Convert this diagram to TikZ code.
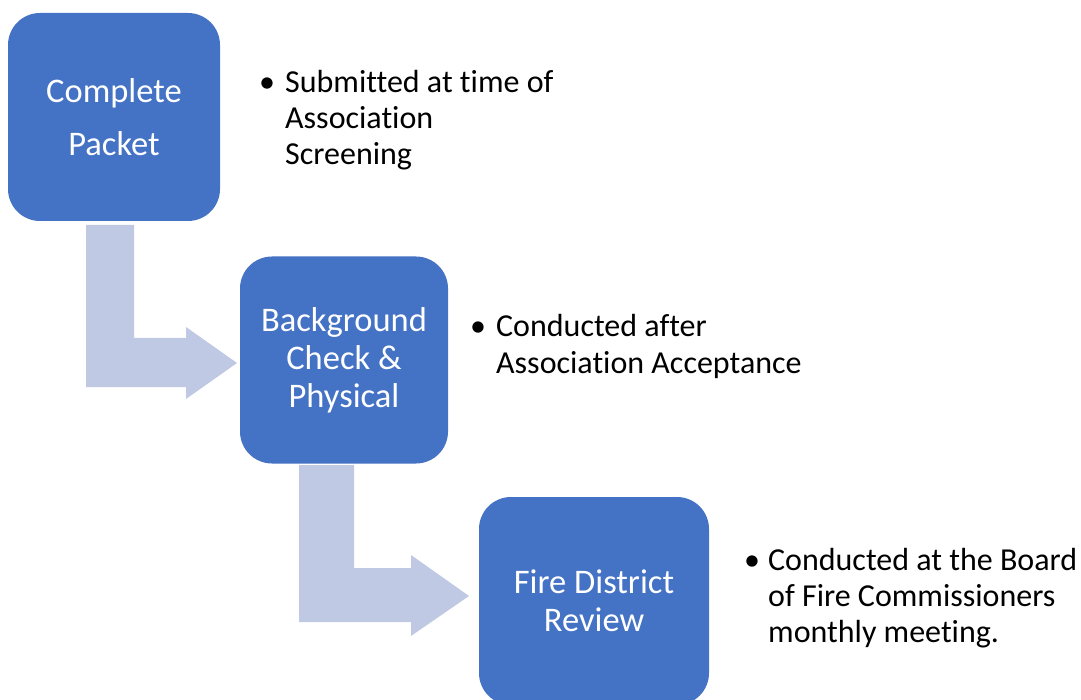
\documentclass[tikz,border=0pt]{standalone}
\usepackage{fontspec}
\setmainfont[Ligatures=NoCommon]{Carlito}
\definecolor{boxblue}{HTML}{4472C4}
\definecolor{arrowblue}{HTML}{C0C9E4}
\begin{document}
\begin{tikzpicture}[x=1pt,y=-1pt,
  stepbox/.style={fill=boxblue, draw=none, rounded corners=32pt, inner sep=0pt,
    text=white, align=center, font=\fontsize{34.5}{38}\selectfont},
  bullettext/.style={anchor=base west, inner sep=0pt, font=\fontsize{32}{36}\selectfont},
  bentarrow/.style={fill=arrowblue, draw=none}]
\useasboundingbox (0,0) rectangle (1081,700);
\fill[bentarrow] (86,225) -- (134,225) -- (134,338) -- (186,338) -- (186,327) -- (237,363) -- (186,399) -- (186,387) -- (86,387) -- cycle;
\fill[bentarrow] (299,465) -- (354,465) -- (354,568) -- (411,568) -- (411,555) -- (469,596) -- (411,636) -- (411,622) -- (299,622) -- cycle;
\node[stepbox, minimum width=212pt, minimum height=208pt] (b1) at (114,117) {Complete\\[15pt]Packet};
\node[stepbox, minimum width=208pt, minimum height=207pt] (b2) at (344,360) {Background\\Check \&\\Physical};
\node[stepbox, minimum width=230pt, minimum height=208pt] (b3) at (594,601) {Fire District\\Review};
\node[bullettext] (t1) at (259,93) {\begin{tabular}[t]{@{}p{26pt}@{}l@{}}•&Submitted at time of\\&Association\\&Screening\end{tabular}};
\node[bullettext] (t2) at (470,337) {\begin{tabular}[t]{@{}p{26pt}@{}l@{}}•&Conducted after\\&Association Acceptance\end{tabular}};
\node[bullettext] (t3) at (744,570) {\begin{tabular}[t]{@{}p{24pt}@{}l@{}}•&Conducted at the Board\\&of Fire Commissioners\\&monthly meeting.\end{tabular}};
\end{tikzpicture}
\end{document}
